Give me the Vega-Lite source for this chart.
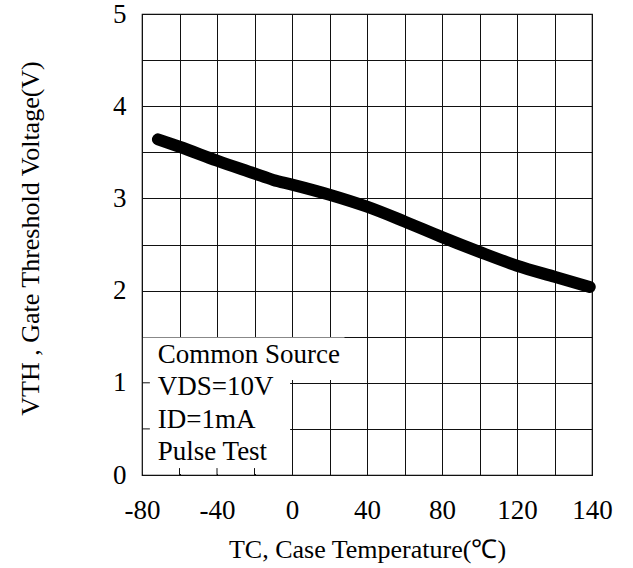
{
  "$schema": "https://vega.github.io/schema/vega-lite/v6.json",
  "width": 450,
  "height": 461,
  "autosize": {"type": "none"},
  "padding": {"left": 142, "top": 14, "right": 41, "bottom": 93},
  "background": "white",
  "config": {
    "view": {"stroke": "black", "strokeWidth": 1.2},
    "font": "Liberation Serif"
  },
  "datasets": {
    "curve": [
      {"tc": -71.5, "vth": 3.64},
      {"tc": -60, "vth": 3.56},
      {"tc": -40, "vth": 3.41},
      {"tc": -20, "vth": 3.27},
      {"tc": -10, "vth": 3.2},
      {"tc": 0, "vth": 3.15},
      {"tc": 20, "vth": 3.04},
      {"tc": 40, "vth": 2.91},
      {"tc": 60, "vth": 2.75},
      {"tc": 80, "vth": 2.58},
      {"tc": 100, "vth": 2.42},
      {"tc": 120, "vth": 2.27},
      {"tc": 140, "vth": 2.15},
      {"tc": 158.8, "vth": 2.04}
    ],
    "box": [
      {"x1": -79.5, "x2": -1, "y1": 0.012, "y2": 1.49},
      {"x1": -1, "x2": 28, "y1": 1.03, "y2": 1.49}
    ],
    "vstubs": [
      {"tc": -60, "y1": 0, "y2": 0.075},
      {"tc": -40, "y1": 0, "y2": 0.075},
      {"tc": -20, "y1": 0, "y2": 0.075}
    ],
    "hstubs": [
      {"vth": 0.5, "x1": -80, "x2": -75.8},
      {"vth": 1.0, "x1": -80, "x2": -75.8}
    ],
    "notes": [
      {"tc": -71.6, "vth": 1.214, "label": "Common Source"},
      {"tc": -71.6, "vth": 0.867, "label": "VDS=10V"},
      {"tc": -71.6, "vth": 0.509, "label": "ID=1mA"},
      {"tc": -71.6, "vth": 0.163, "label": "Pulse Test"}
    ]
  },
  "layer": [
    {
      "data": {"name": "curve"},
      "mark": {"type": "line", "color": "black", "strokeWidth": 12, "strokeCap": "round", "strokeJoin": "round", "interpolate": "monotone"},
      "encoding": {
        "x": {
          "field": "tc", "type": "quantitative",
          "scale": {"domain": [-80, 160], "nice": false, "zero": false},
          "axis": {
            "tickCount": 12,
            "labelExpr": "datum.value == 160 ? '140' : (datum.value % 40 == 0 ? '' + datum.value : '')",
            "grid": true, "gridColor": "#111", "gridWidth": 1, "gridOpacity": 1,
            "ticks": false, "domain": false,
            "labelFont": "Liberation Serif", "labelFontSize": 27, "labelColor": "black",
            "labelPadding": 22, "labelFlush": false, "labelOverlap": false,
            "title": "TC, Case Temperature(℃)",
            "titleFont": "Liberation Serif", "titleFontSize": 26, "titleFontWeight": "normal",
            "titleColor": "black", "titleBaseline": "alphabetic", "titleY": 82
          }
        },
        "y": {
          "field": "vth", "type": "quantitative",
          "scale": {"domain": [0, 5], "nice": false},
          "axis": {
            "tickCount": 10,
            "labelExpr": "datum.value % 1 == 0 ? '' + datum.value : ''",
            "grid": true, "gridColor": "#111", "gridWidth": 1, "gridOpacity": 1,
            "ticks": false, "domain": false,
            "labelFont": "Liberation Serif", "labelFontSize": 27, "labelColor": "black",
            "labelPadding": 16, "labelFlush": false, "labelOverlap": false,
            "title": "VTH , Gate Threshold Voltage(V)",
            "titleFont": "Liberation Serif", "titleFontSize": 26, "titleFontWeight": "normal",
            "titleColor": "black", "titleBaseline": "alphabetic", "titleX": -104, "titleY": 224
          }
        }
      }
    },
    {
      "data": {"name": "box"},
      "mark": {"type": "rect", "color": "white", "opacity": 1},
      "encoding": {
        "x": {"field": "x1", "type": "quantitative"},
        "x2": {"field": "x2"},
        "y": {"field": "y1", "type": "quantitative"},
        "y2": {"field": "y2"}
      }
    },
    {
      "data": {"name": "vstubs"},
      "mark": {"type": "rule", "color": "#111", "strokeWidth": 1},
      "encoding": {
        "x": {"field": "tc", "type": "quantitative"},
        "y": {"field": "y1", "type": "quantitative"},
        "y2": {"field": "y2"}
      }
    },
    {
      "data": {"name": "hstubs"},
      "mark": {"type": "rule", "color": "#111", "strokeWidth": 1},
      "encoding": {
        "y": {"field": "vth", "type": "quantitative"},
        "x": {"field": "x1", "type": "quantitative"},
        "x2": {"field": "x2"}
      }
    },
    {
      "data": {"name": "notes"},
      "mark": {"type": "text", "align": "left", "baseline": "alphabetic", "font": "Liberation Serif", "fontSize": 27, "color": "black"},
      "encoding": {
        "x": {"field": "tc", "type": "quantitative"},
        "y": {"field": "vth", "type": "quantitative"},
        "text": {"field": "label"}
      }
    }
  ]
}
